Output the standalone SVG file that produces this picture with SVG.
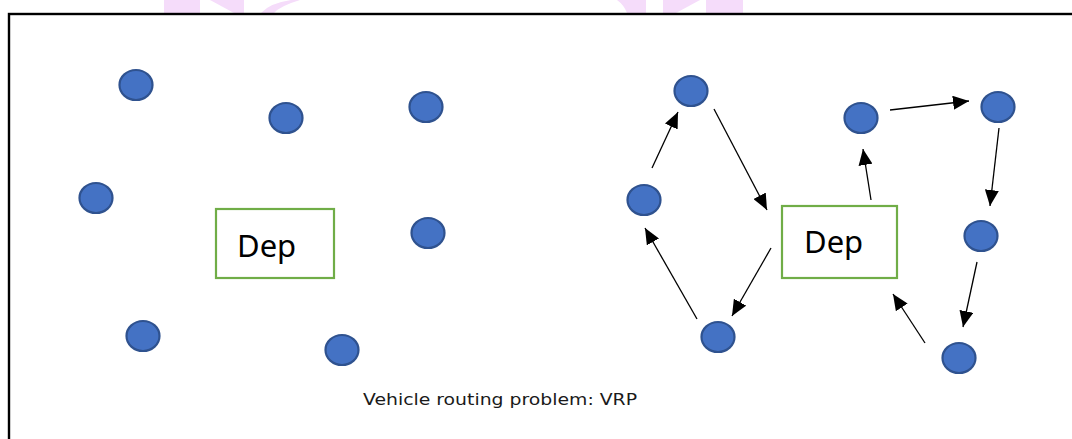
<svg xmlns="http://www.w3.org/2000/svg" width="1072" height="439" viewBox="0 0 1072 439">
  <style>
    .wm { fill: #F5DCFA; stroke: none; }
    .node { fill: #4472C4; stroke: #2F528F; stroke-width: 2.2; }
    .dep { fill: #FFFFFF; stroke: #70AD47; stroke-width: 2.2; }
    .deptxt { font-family: "Noto Sans", "Open Sans", sans-serif; font-size: 31px; fill: #000000; }
    .cap { font-family: "DejaVu Sans", sans-serif; font-size: 16px; fill: #1a1a1a; }
    .edge { stroke: #000000; stroke-width: 1.3; fill: none; marker-end: url(#arrow); }
  </style>
  <defs>
    <marker id="arrow" markerUnits="userSpaceOnUse" markerWidth="16" markerHeight="14" viewBox="0 0 16 14" refX="16" refY="7" orient="auto">
      <path d="M0,0 L16,7 L0,14 Z" fill="#000000"/>
    </marker>
  </defs>
  <rect width="1072" height="439" fill="#FFFFFF"/>
  <g id="watermark">
    <rect class="wm" x="164" y="0" width="36" height="13"/>
    <polygon class="wm" points="210,0 244,0 244,13 234,13"/>
    <path class="wm" d="M261,13 Q270,3 291,0 L300,0 Q280,6 274,13 Z"/>
    <path class="wm" d="M617,0 L646,0 L646,13 L627,13 Q624,5 617,0 Z"/>
    <polygon class="wm" points="663,0 700,0 676,13 663,13"/>
    <rect class="wm" x="706" y="0" width="37" height="13"/>
  </g>
  <rect id="frame" x="9" y="14" width="1080" height="440" fill="none" stroke="#000000" stroke-width="2.4"/>
  <g id="left-graph">
    <g id="l-dep"><rect class="dep" x="216" y="209" width="118" height="69"/><text class="deptxt" x="237" y="257">Dep</text></g>
    <g id="l-n1"><ellipse class="node" cx="136" cy="85" rx="16.5" ry="15"/></g>
    <g id="l-n2"><ellipse class="node" cx="286" cy="118" rx="16.5" ry="15"/></g>
    <g id="l-n3"><ellipse class="node" cx="426" cy="107" rx="16.5" ry="15"/></g>
    <g id="l-n4"><ellipse class="node" cx="96" cy="198" rx="16.5" ry="15"/></g>
    <g id="l-n5"><ellipse class="node" cx="428" cy="233" rx="16.5" ry="15"/></g>
    <g id="l-n6"><ellipse class="node" cx="143" cy="336" rx="16.5" ry="15"/></g>
    <g id="l-n7"><ellipse class="node" cx="342" cy="350" rx="16.5" ry="15"/></g>
  </g>
  <g id="right-graph">
    <g id="r-dep"><rect class="dep" x="782" y="206" width="115" height="72"/><text class="deptxt" x="804" y="253">Dep</text></g>
    <g id="r-a"><ellipse class="node" cx="691" cy="91" rx="16.5" ry="15"/></g>
    <g id="r-b"><ellipse class="node" cx="644" cy="200" rx="16.5" ry="15"/></g>
    <g id="r-c"><ellipse class="node" cx="718" cy="337" rx="16.5" ry="15"/></g>
    <g id="r-d"><ellipse class="node" cx="861" cy="118" rx="16.5" ry="15"/></g>
    <g id="r-e"><ellipse class="node" cx="998" cy="107" rx="16.5" ry="15"/></g>
    <g id="r-f"><ellipse class="node" cx="981" cy="236" rx="16.5" ry="15"/></g>
    <g id="r-g"><ellipse class="node" cx="959" cy="358" rx="16.5" ry="15"/></g>
  </g>
  <g id="connectors">
    <line class="edge" x1="652" y1="168" x2="678" y2="112"/>
    <line class="edge" x1="714" y1="109" x2="767" y2="210"/>
    <line class="edge" x1="771" y1="248" x2="732" y2="316"/>
    <line class="edge" x1="697" y1="319" x2="645" y2="228"/>
    <line class="edge" x1="871" y1="200" x2="863" y2="149"/>
    <line class="edge" x1="890" y1="110" x2="969" y2="101"/>
    <line class="edge" x1="999" y1="128" x2="990" y2="206"/>
    <line class="edge" x1="977" y1="262" x2="963" y2="327"/>
    <line class="edge" x1="925" y1="343" x2="893" y2="294"/>
  </g>
  <text id="caption" class="cap" x="363" y="405" textLength="274" lengthAdjust="spacingAndGlyphs">Vehicle routing problem: VRP</text>
</svg>
